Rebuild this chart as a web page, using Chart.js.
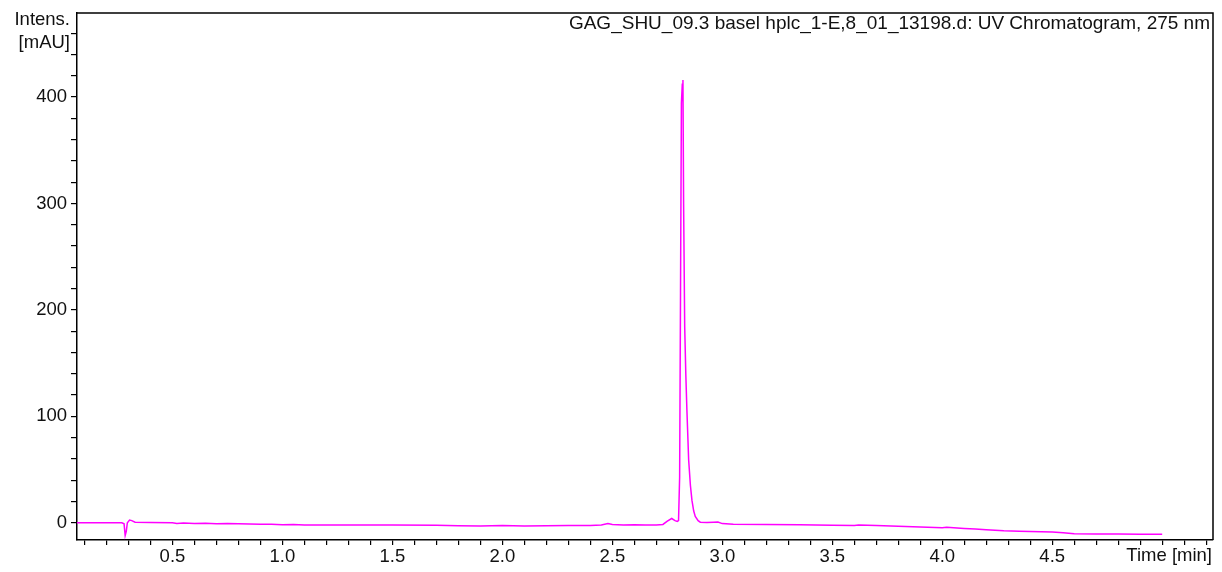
<!DOCTYPE html>
<html>
<head>
<meta charset="utf-8">
<script src="https://cdn.jsdelivr.net/npm/chart.js@4.4.1/dist/chart.umd.min.js"></script>
<style>
  html, body { margin: 0; padding: 0; background: #fff; }
  #wrap { width: 1222px; height: 572px; }
</style>
</head>
<body>
<div id="wrap"><canvas id="chrom"></canvas></div>
<script>
// retention time [min] and intensity [mAU]
const times = [
  0.066, 0.20, 0.27, 0.28, 0.285, 0.29, 0.295, 0.305, 0.315, 0.33, 0.40, 0.50,
  0.52, 0.55, 0.60, 0.65, 0.70, 0.75, 0.80, 0.85, 0.90, 0.95, 1.00, 1.05,
  1.10, 1.30, 1.50, 1.70, 1.80, 1.90, 2.00, 2.10, 2.20, 2.30, 2.40, 2.45,
  2.48, 2.50, 2.55, 2.60, 2.65, 2.70, 2.73, 2.75, 2.77, 2.785, 2.795, 2.801,
  2.806, 2.810, 2.814, 2.818, 2.821, 2.824, 2.829, 2.834, 2.839, 2.847, 2.855, 2.862,
  2.870, 2.877, 2.89, 2.90, 2.93, 2.96, 2.98, 3.00, 3.05, 3.20, 3.35, 3.50,
  3.60, 3.62, 3.70, 3.80, 3.90, 4.00, 4.02, 4.10, 4.15, 4.20, 4.28, 4.35,
  4.45, 4.50, 4.55, 4.60, 4.70, 4.80, 4.90, 5.00
];
const intensity = [
  0, 0, 0, -1, -12, -8, 0, 2.5, 2, 0.5, 0.3, 0,
  -0.6, -0.3, -0.8, -0.4, -0.9, -0.6, -1.0, -1.2, -1.3, -1.5, -1.8, -1.6,
  -2.0, -2.1, -2.2, -2.4, -2.8, -3.0, -2.6, -3.0, -2.8, -2.5, -2.6, -2.2,
  -0.8, -1.6, -2.2, -1.8, -2.2, -2.0, -1.6, 1.5, 4.0, 2.0, 1.2, 2.0,
  43, 216, 394, 412, 416, 300, 184, 140, 106, 59, 35, 21,
  11, 6, 2, 0.5, 0.2, 0.4, 0.6, -0.8, -1.4, -1.6, -1.9, -2.3,
  -2.6, -2.2, -2.6, -3.3, -3.9, -4.6, -4.3, -5.3, -5.8, -6.6, -7.6, -8.0,
  -8.4, -8.8, -9.4, -10.3, -10.5, -10.6, -10.8, -10.9
];

const xMin = 0.066, xMax = 5.231;
const yMin = -16.2, yMax = 478.9;
const xLabelEvery = 0.5;   // labelled x ticks
const yLabelEvery = 100;   // labelled y ticks
const titleText = 'GAG_SHU_09.3 basel hplc_1-E,8_01_13198.d: UV Chromatogram, 275 nm';

const FONT = 'Arial, "Liberation Sans", sans-serif';
const TEXT = '#111';
const FS = 18.5;

const points = times.map((t, i) => ({ x: t, y: intensity[i] }));

function onStep(v, step) {
  const r = v / step;
  return Math.abs(r - Math.round(r)) < 1e-6;
}

const frameAndText = {
  id: 'frameAndText',
  afterDraw(chart) {
    const { ctx, chartArea: a } = chart;
    ctx.save();
    ctx.strokeStyle = '#000';
    ctx.lineWidth = 1.5;
    ctx.beginPath();
    ctx.moveTo(a.left, a.top);
    ctx.lineTo(a.right, a.top);
    ctx.lineTo(a.right, a.bottom);
    ctx.stroke();

    ctx.fillStyle = TEXT;
    ctx.textAlign = 'right';
    ctx.textBaseline = 'middle';
    ctx.font = '19px ' + FONT;
    ctx.fillText(titleText, a.right - 3, 24);
    ctx.font = FS + 'px ' + FONT;
    ctx.fillText('Intens.', 70, 20);
    ctx.fillText('[mAU]', 70, 43);
    ctx.fillText('Time [min]', a.right - 1, 556);
    ctx.restore();
  }
};

new Chart(document.getElementById('chrom'), {
  type: 'line',
  data: {
    datasets: [{
      data: points,
      borderColor: 'rgb(255, 0, 255)',
      borderWidth: 1.5,
      pointRadius: 0,
      tension: 0,
      fill: false
    }]
  },
  options: {
    responsive: true,
    maintainAspectRatio: false,
    animation: false,
    layout: { padding: { left: 0, right: 9, top: 13, bottom: 0 } },
    plugins: { legend: { display: false }, tooltip: { enabled: false } },
    scales: {
      x: {
        type: 'linear',
        min: xMin,
        max: xMax,
        afterFit: s => { s.height = 32; s.paddingLeft = 0; s.paddingRight = 0; },
        border: { display: true, color: '#000', width: 1.5 },
        grid: { drawOnChartArea: false, drawTicks: true, tickLength: 5, color: '#000', lineWidth: 1.2 },
        ticks: {
          stepSize: 0.1,
          includeBounds: false,
          autoSkip: false,
          maxRotation: 0,
          padding: 1,
          color: TEXT,
          font: { family: FONT, size: FS },
          callback: v => (onStep(v, xLabelEvery) && v < 4.9) ? v.toFixed(1) : ''
        }
      },
      y: {
        type: 'linear',
        min: yMin,
        max: yMax,
        afterFit: s => { s.width = 77; s.paddingTop = 0; s.paddingBottom = 0; },
        border: { display: true, color: '#000', width: 1.5 },
        grid: { drawOnChartArea: false, drawTicks: true, tickLength: 6, color: '#000', lineWidth: 1.2 },
        ticks: {
          stepSize: 20,
          includeBounds: false,
          autoSkip: false,
          padding: 4,
          color: TEXT,
          font: { family: FONT, size: FS },
          callback: v => onStep(v, yLabelEvery) ? String(Math.round(v)) : ''
        }
      }
    }
  },
  plugins: [frameAndText]
});
</script>
</body>
</html>
